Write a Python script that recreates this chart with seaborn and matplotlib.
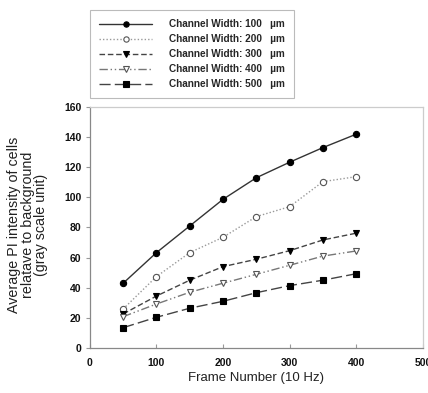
import matplotlib
matplotlib.use("Agg")
import matplotlib.pyplot as plt
import seaborn as sns
import pandas as pd

frames = [50, 100, 150, 200, 250, 300, 350, 400]
w100 = [43, 63.3, 81, 98.7, 113, 123.3, 133, 141.9]
w200 = [25.9, 47.4, 63.3, 73.5, 87.2, 93.8, 110.4, 113.7]
w300 = [22.6, 34.5, 45, 54, 58.9, 64.6, 71.7, 76.2]
w400 = [20.8, 29.2, 37, 43, 48.9, 54.9, 61, 64.4]
w500 = [13.5, 20.4, 26.4, 31, 36.7, 41.4, 45, 49.3]
labels = ["Channel Width: 100   \u00b5m", "Channel Width: 200   \u00b5m",
          "Channel Width: 300   \u00b5m", "Channel Width: 400   \u00b5m",
          "Channel Width: 500   \u00b5m"]
xticks = [0, 100, 200, 300, 400, 500]
yticks = [0, 20, 40, 60, 80, 100, 120, 140, 160]

sns.set_style("white")
plt.rcParams['font.family'] = ['Liberation Sans', 'DejaVu Sans']

fig = plt.figure(figsize=(4.28, 3.93), dpi=100)
ax = fig.add_axes([0.210, 0.1145, 0.778, 0.6135])

styles = [
    dict(marker='o', linestyle='-', color='#333333', mfc='black', mec='black'),
    dict(marker='o', linestyle=(0, (1, 1.5)), color='#999999', mfc='white', mec='#555555'),
    dict(marker='v', linestyle=(0, (4, 2)), color='#444444', mfc='black', mec='black'),
    dict(marker='v', linestyle=(0, (6, 2, 1, 2, 1, 2)), color='#777777', mfc='white', mec='#555555'),
    dict(marker='s', linestyle=(0, (8, 3)), color='#444444', mfc='black', mec='black'),
]
series = [w100, w200, w300, w400, w500]
for vals, lab, st in zip(series, labels, styles):
    df = pd.DataFrame({"x": frames, "y": vals})
    sns.lineplot(data=df, x="x", y="y", ax=ax, label=lab,
                 marker=st['marker'], linestyle=st['linestyle'], color=st['color'],
                 markerfacecolor=st['mfc'], markeredgecolor=st['mec'],
                 markersize=4.5, markeredgewidth=0.8, linewidth=1.0)

ax.set_xlim(0, 500)
ax.set_ylim(0, 160)
ax.set_xticks(xticks)
ax.set_yticks(yticks)
ax.tick_params(axis='both', labelsize=7.5, length=3, width=0.8,
               bottom=True, left=True, colors='#999999', labelcolor='#111111')
ax.tick_params(axis='x', direction='in', pad=7)
ax.tick_params(axis='y', direction='out', pad=3)
for t in ax.get_xticklabels() + ax.get_yticklabels():
    t.set_fontweight('bold')
ax.set_xlabel("Frame Number (10 Hz)", fontsize=9.5, color='#222222', labelpad=3)
ax.set_ylabel("Average PI intensity of cells\nrelatave to background\n(gray scale unit)",
              fontsize=10.3, color='#222222', linespacing=0.95)
ax.yaxis.set_label_coords(-0.125, 0.51)
for s in ['left', 'bottom']:
    ax.spines[s].set_color('#888888')
    ax.spines[s].set_linewidth(0.9)
for s in ['top', 'right']:
    ax.spines[s].set_color('#cccccc')
    ax.spines[s].set_linewidth(0.9)

h, l = ax.get_legend_handles_labels()
ax.legend_.remove()
leg = fig.legend(h, l, loc='upper left', bbox_to_anchor=(90/428, 1 - 10/393),
                 prop={'size': 7.2, 'weight': 'bold'}, frameon=True, fancybox=False,
                 edgecolor='#aaaaaa', handlelength=5.3, handletextpad=1.7,
                 borderpad=0.9, labelspacing=0.5, borderaxespad=0, markerscale=0.85)
leg.get_frame().set_linewidth(0.8)

fig.savefig("out.png", dpi=100)
